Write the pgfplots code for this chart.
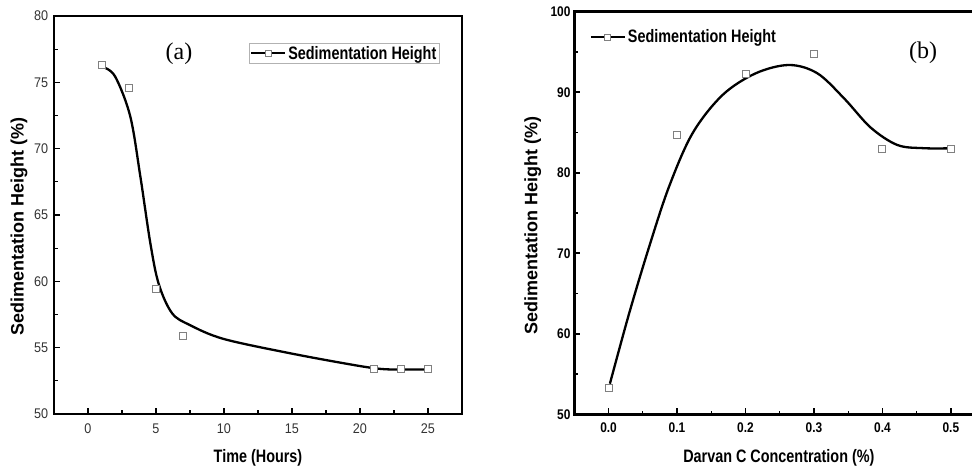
\documentclass[border=0pt]{standalone}
\usepackage{pgfplots}
\pgfplotsset{compat=1.18}
\usepackage{fontspec}
\setmainfont{Liberation Sans}
\newfontfamily\timesfont{Liberation Serif}
\definecolor{mk}{gray}{0.5}
\begin{document}
\begin{tikzpicture}
\pgfplotsset{
  myax/.style={
    scale only axis, anchor=south west,
    axis line style={line width=2.6pt},
    tick align=inside, tick pos=left,
    major tick length=6pt, minor tick length=3.5pt,
    major tick style={black, line width=1.6pt},
    minor tick style={black, line width=1.2pt},
    minor tick num=1,
    /pgf/number format/assume math mode=true,
    label style={font=\bfseries\fontsize{18}{20}\selectfont},
    xlabel style={xscale=0.8},
    legend cell align=left,
    legend image code/.code={\draw[mark repeat=2,mark phase=2,##1] plot coordinates {(0pt,0pt) (17pt,0pt) (34pt,0pt)};},
  },
  curve/.style={black, line width=2.3pt, smooth, tension=0.55, no markers, forget plot},
  pts/.style={only marks, mark=square*, mark size=3.5pt, mark options={fill=white, draw=mk, line width=0.9pt}, forget plot},
}
% ---------------- (a) ----------------
\begin{axis}[myax,
  at={(54pt,56pt)}, width=408pt, height=398pt,
  xmin=-2.5, xmax=27.5, ymin=50, ymax=80,
  xtick={0,5,...,25}, ytick={50,55,...,80},
  tick label style={font=\fontsize{14}{16}\selectfont, text=black!80, xscale=0.9},
  xticklabel style={yshift=-6pt},
  yticklabel style={xshift=-3pt},
  xlabel={Time (Hours)}, ylabel={Sedimentation Height (\%)},
  xlabel style={at={(axis description cs:0.5,-0.11)}, anchor=center},
  ylabel style={at={(axis description cs:-0.086,0.47)}, anchor=center},
  legend style={at={(axis description cs:0.478,0.932)}, anchor=north west,
    draw=gray!60, line width=0.8pt, font=\bfseries\fontsize{18}{20}\selectfont,
    inner sep=1pt, outer sep=0pt},
]
\addlegendimage{black, line width=2.3pt, mark=square*, mark size=3pt, mark options={fill=white, draw=mk, line width=0.8pt, solid}}
\addlegendentry{\scalebox{0.8}[1]{Sedimentation Height}}
\addplot[curve] coordinates {
(1.1,76.15) (2.0,75.43) (3.11,72.42) (3.85,67.9) (4.58,62.9) (5.2,59.8)
(6.18,57.6) (7.5,56.7) (10,55.65) (15,54.55) (19.5,53.7) (21.5,53.4)
(23,53.35) (25,53.35)};
\addplot[pts] coordinates {(1,76.3) (3,74.6) (5,59.4) (7,55.9) (21,53.4) (23,53.4) (25,53.4)};
\end{axis}
% ---------------- (b) ----------------
\begin{axis}[myax,
  at={(574.3pt,55.7pt)}, width=410.8pt, height=402.6pt,
  xmin=-0.05, xmax=0.55, ymin=50, ymax=100,
  xtick={0,0.1,...,0.5}, ytick={50,60,...,100},
  tick label style={font=\bfseries\fontsize{14}{16}\selectfont, xscale=0.85},
  xticklabel style={yshift=-5pt, /pgf/number format/.cd, fixed, fixed zerofill, precision=1},
  yticklabel style={xshift=-1pt},
  xlabel={Darvan C Concentration (\%)}, ylabel={Sedimentation Height (\%)},
  xlabel style={at={(axis description cs:0.498,-0.1085)}, anchor=center},
  ylabel style={at={(axis description cs:-0.101,0.47)}, anchor=center},
  legend style={at={(axis description cs:0.035,0.937)}, anchor=west,
    draw=none, fill=none, font=\bfseries\fontsize{18}{20}\selectfont,
    inner sep=1pt, outer sep=0pt},
]
\addlegendimage{black, line width=2.3pt, mark=square*, mark size=3pt, mark options={fill=white, draw=mk, line width=0.8pt, solid}}
\addlegendentry{\scalebox{0.8}[1]{Sedimentation Height}}
\addplot[curve] coordinates {
(0.002,53.8) (0.03,62.5) (0.0593,70.8) (0.0885,78.3) (0.1227,84.9) (0.1665,89.65)
(0.215,92.35) (0.2638,93.38) (0.305,92.35) (0.344,89.24) (0.383,85.6) (0.422,83.44)
(0.46,83.05) (0.495,83.03)};
\addplot[pts] coordinates {(0,53.3) (0.1,84.7) (0.2,92.3) (0.3,94.8) (0.4,83.0) (0.5,83.0)};
\end{axis}
\node[font=\timesfont\fontsize{24}{26}\selectfont] at (179pt,416pt) {(a)};
\node[font=\timesfont\fontsize{24}{26}\selectfont] at (923pt,417pt) {(b)};
\pgfresetboundingbox
\useasboundingbox (0pt,0pt) rectangle (972pt,470pt);
\end{tikzpicture}
\end{document}
